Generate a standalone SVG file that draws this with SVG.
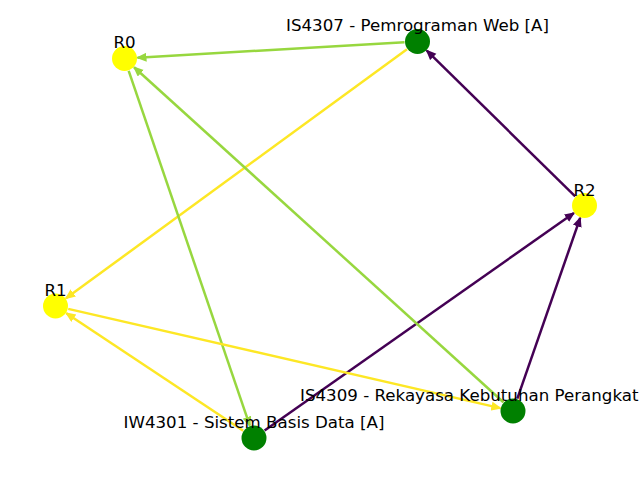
<svg xmlns="http://www.w3.org/2000/svg" width="640" height="480" viewBox="0 0 640 480">
<style>
.e{fill:none;stroke-width:2.5}
.g{stroke:#97d73f}
.y{stroke:#fde725}
.p{stroke:#440154}
.lbl{font-family:"DejaVu Sans",sans-serif;font-size:16.67px;fill:#000;text-anchor:middle}
.ny{fill:#ffff00}
.ng{fill:#008000}
</style>
<defs>
<marker id="ag" markerUnits="userSpaceOnUse" markerWidth="12" markerHeight="10" refX="9" refY="4.5" orient="auto"><path d="M0,0 L10.5,4.5 L0,9 z" fill="#97d73f"/></marker>
<marker id="ay" markerUnits="userSpaceOnUse" markerWidth="12" markerHeight="10" refX="9" refY="4.5" orient="auto"><path d="M0,0 L10.5,4.5 L0,9 z" fill="#fde725"/></marker>
<marker id="ap" markerUnits="userSpaceOnUse" markerWidth="12" markerHeight="10" refX="9" refY="4.5" orient="auto"><path d="M0,0 L10.5,4.5 L0,9 z" fill="#440154"/></marker>
</defs>
<rect width="640" height="480" fill="#fff"/>
<g id="edges">
<line class="e g" x1="404.5" y1="42.25" x2="137.5" y2="57.75" marker-end="url(#ag)"/>
<line class="e y" x1="407.0" y1="49.2" x2="66.0" y2="298.3" marker-end="url(#ay)"/>
<line class="e p" x1="575.2" y1="196.4" x2="426.8" y2="50.6" marker-end="url(#ap)"/>
<line class="e p" x1="264.6" y1="430.5" x2="573.9" y2="213.0" marker-end="url(#ap)"/>
<line class="e p" x1="517.3" y1="398.7" x2="580.2" y2="217.8" marker-end="url(#ap)"/>
<line class="e g" x1="503.4" y1="402.3" x2="134.1" y2="67.2" marker-end="url(#ag)"/>
<line class="e g" x1="128.7" y1="70.8" x2="249.8" y2="425.7" marker-end="url(#ag)"/>
<line class="e y" x1="243.2" y1="430.8" x2="66.3" y2="313.2" marker-end="url(#ay)"/>
<line class="e y" x1="68.2" y1="308.9" x2="500.3" y2="408.1" marker-end="url(#ay)"/>
</g>
<g id="R0"><circle class="ny" cx="124.5" cy="58.5" r="12.5"/><text class="lbl" x="124.5" y="48">R0</text></g>
<g id="IS4307"><circle class="ng" cx="417.5" cy="41.5" r="12.5"/><text class="lbl" x="417.5" y="31">IS4307 - Pemrograman Web [A]</text></g>
<g id="R2"><circle class="ny" cx="584.5" cy="205.5" r="12.5"/><text class="lbl" x="584.5" y="196">R2</text></g>
<g id="R1"><circle class="ny" cx="55.5" cy="306" r="12.5"/><text class="lbl" x="55.5" y="296">R1</text></g>
<g id="IS4309"><circle class="ng" cx="513" cy="411" r="12.5"/><text class="lbl" x="300" y="401" style="text-anchor:start">IS4309 - Rekayasa Kebutuhan Perangkat</text></g>
<g id="IW4301"><circle class="ng" cx="254" cy="438" r="12.5"/><text class="lbl" x="254" y="428">IW4301 - Sistem Basis Data [A]</text></g>
</svg>
